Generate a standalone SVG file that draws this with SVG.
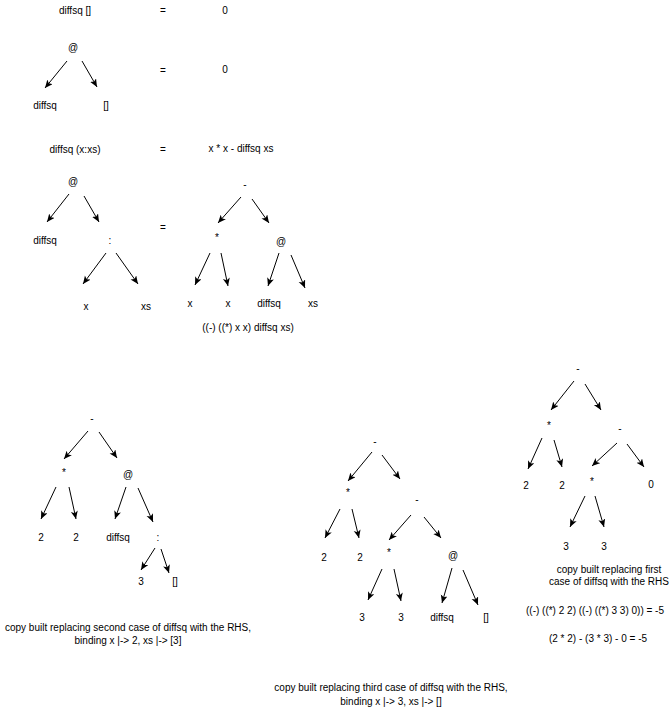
<svg xmlns="http://www.w3.org/2000/svg" width="672" height="713" viewBox="0 0 672 713">
<style>
text{font-family:"Liberation Sans",Arial,sans-serif;font-size:10px;fill:#000;text-anchor:middle}
.e{stroke:#000;stroke-width:1;fill:none;marker-end:url(#a)}
</style>
<defs>
<marker id="a" markerUnits="userSpaceOnUse" markerWidth="9" markerHeight="8" refX="8" refY="3.5" orient="auto">
<path d="M0,0 L8,3.5 L0,7 L2,3.5 z" fill="#000"/>
</marker>
</defs>
<rect width="672" height="713" fill="#fff"/>
<g id="connectors">
<line class="e" x1="67" y1="61" x2="45" y2="88"/>
<line class="e" x1="82" y1="61" x2="97" y2="87"/>
<line class="e" x1="69" y1="194" x2="47" y2="222"/>
<line class="e" x1="84" y1="196" x2="99" y2="222"/>
<line class="e" x1="106" y1="253" x2="83" y2="284"/>
<line class="e" x1="116" y1="253" x2="138" y2="284"/>
<line class="e" x1="241" y1="197" x2="218" y2="223"/>
<line class="e" x1="252" y1="199" x2="269" y2="223"/>
<line class="e" x1="210" y1="253" x2="195" y2="285"/>
<line class="e" x1="221" y1="253" x2="228" y2="286"/>
<line class="e" x1="279" y1="253" x2="268" y2="286"/>
<line class="e" x1="291" y1="255" x2="305" y2="288"/>
<line class="e" x1="88" y1="431" x2="64" y2="459"/>
<line class="e" x1="99" y1="432" x2="117" y2="458"/>
<line class="e" x1="56" y1="487" x2="41" y2="519"/>
<line class="e" x1="69" y1="487" x2="76" y2="519"/>
<line class="e" x1="126" y1="487" x2="115" y2="519"/>
<line class="e" x1="138" y1="488" x2="153" y2="522"/>
<line class="e" x1="155" y1="548" x2="141" y2="570"/>
<line class="e" x1="161" y1="549" x2="169" y2="573"/>
<line class="e" x1="372" y1="452" x2="348" y2="481"/>
<line class="e" x1="382" y1="455" x2="400" y2="479"/>
<line class="e" x1="340" y1="509" x2="325" y2="538"/>
<line class="e" x1="352" y1="509" x2="359" y2="538"/>
<line class="e" x1="411" y1="515" x2="389" y2="540"/>
<line class="e" x1="424" y1="517" x2="441" y2="538"/>
<line class="e" x1="382" y1="569" x2="368" y2="600"/>
<line class="e" x1="394" y1="569" x2="401" y2="601"/>
<line class="e" x1="452" y1="568" x2="442" y2="603"/>
<line class="e" x1="463" y1="570" x2="478" y2="605"/>
<line class="e" x1="574" y1="381" x2="551" y2="410"/>
<line class="e" x1="585" y1="384" x2="601" y2="410"/>
<line class="e" x1="542" y1="438" x2="528" y2="469"/>
<line class="e" x1="554" y1="440" x2="562" y2="467"/>
<line class="e" x1="617" y1="443" x2="592" y2="466"/>
<line class="e" x1="627" y1="444" x2="644" y2="467"/>
<line class="e" x1="585" y1="496" x2="570" y2="527"/>
<line class="e" x1="595" y1="496" x2="604" y2="527"/>
</g>
<g id="eq1">
<text x="75" y="13.5">diffsq []</text>
<text x="163" y="13.5">=</text>
<text x="225" y="13.5">0</text>
</g>
<g id="t1-app"><text x="73" y="50.5">@</text></g>
<g id="t1-diffsq"><text x="45" y="108.5">diffsq</text></g>
<g id="t1-nil"><text x="106" y="108.5">[]</text></g>
<g id="eq1b"><text x="163" y="73.5">=</text><text x="225" y="72.5">0</text></g>
<g id="eq2">
<text x="75" y="152.5">diffsq (x:xs)</text>
<text x="163" y="152.5">=</text>
<text x="241" y="151.5">x * x - diffsq xs</text>
</g>
<g id="t2-app"><text x="73" y="184.5">@</text></g>
<g id="t2-diffsq"><text x="45" y="243.5">diffsq</text></g>
<g id="t2-cons"><text x="110" y="243.5">:</text></g>
<g id="t2-x"><text x="86" y="309.5">x</text></g>
<g id="t2-xs"><text x="146" y="309.5">xs</text></g>
<g id="eq2b"><text x="163" y="230.5">=</text></g>
<g id="r2-minus"><text x="245" y="187.5">-</text></g>
<g id="r2-mul"><text x="217" y="240.5">*</text></g>
<g id="r2-app"><text x="281" y="244.5">@</text></g>
<g id="r2-x1"><text x="190" y="306.5">x</text></g>
<g id="r2-x2"><text x="228" y="306.5">x</text></g>
<g id="r2-diffsq"><text x="269" y="306.5">diffsq</text></g>
<g id="r2-xs"><text x="313" y="306.5">xs</text></g>
<g id="r2-expr"><text x="248" y="330.5">((-) ((*) x x) diffsq xs)</text></g>
<g id="c1-minus"><text x="92" y="421.5">-</text></g>
<g id="c1-mul"><text x="64" y="475.5">*</text></g>
<g id="c1-app"><text x="128" y="477.5">@</text></g>
<g id="c1-2a"><text x="41" y="540.5">2</text></g>
<g id="c1-2b"><text x="76" y="540.5">2</text></g>
<g id="c1-diffsq"><text x="118" y="540.5">diffsq</text></g>
<g id="c1-cons"><text x="158" y="540.5">:</text></g>
<g id="c1-3"><text x="141" y="584.5">3</text></g>
<g id="c1-nil"><text x="175" y="584.5">[]</text></g>
<g id="c1-caption">
<text x="128" y="630.5">copy built replacing second case of diffsq with the RHS,</text>
<text x="128" y="643.5">binding x |-&gt; 2, xs |-&gt; [3]</text>
</g>
<g id="c2-minus"><text x="375" y="444.5">-</text></g>
<g id="c2-mul"><text x="348" y="495.5">*</text></g>
<g id="c2-minus2"><text x="417" y="502.5">-</text></g>
<g id="c2-2a"><text x="324" y="560.5">2</text></g>
<g id="c2-2b"><text x="360" y="560.5">2</text></g>
<g id="c2-mul2"><text x="389" y="555.5">*</text></g>
<g id="c2-app"><text x="453" y="558.5">@</text></g>
<g id="c2-3a"><text x="362" y="620.5">3</text></g>
<g id="c2-3b"><text x="401" y="620.5">3</text></g>
<g id="c2-diffsq"><text x="442" y="620.5">diffsq</text></g>
<g id="c2-nil"><text x="486" y="620.5">[]</text></g>
<g id="c2-caption">
<text x="391" y="690.5">copy built replacing third case of diffsq with the RHS,</text>
<text x="391" y="704.5">binding x |-&gt; 3, xs |-&gt; []</text>
</g>
<g id="c3-minus"><text x="578" y="371.5">-</text></g>
<g id="c3-mul"><text x="549" y="428.5">*</text></g>
<g id="c3-minus2"><text x="620" y="431.5">-</text></g>
<g id="c3-2a"><text x="526" y="488.5">2</text></g>
<g id="c3-2b"><text x="562" y="488.5">2</text></g>
<g id="c3-mul2"><text x="592" y="484.5">*</text></g>
<g id="c3-0"><text x="651" y="487.5">0</text></g>
<g id="c3-3a"><text x="566" y="549.5">3</text></g>
<g id="c3-3b"><text x="604" y="549.5">3</text></g>
<g id="c3-caption">
<text x="609" y="572.5">copy built replacing first</text>
<text x="609" y="584.5">case of diffsq with the RHS</text>
</g>
<g id="c3-expr"><text x="595" y="613.5">((-) ((*) 2 2) ((-) ((*) 3 3) 0)) = -5</text></g>
<g id="c3-arith"><text x="598" y="641.5">(2 * 2) - (3 * 3) - 0 = -5</text></g>
</svg>
